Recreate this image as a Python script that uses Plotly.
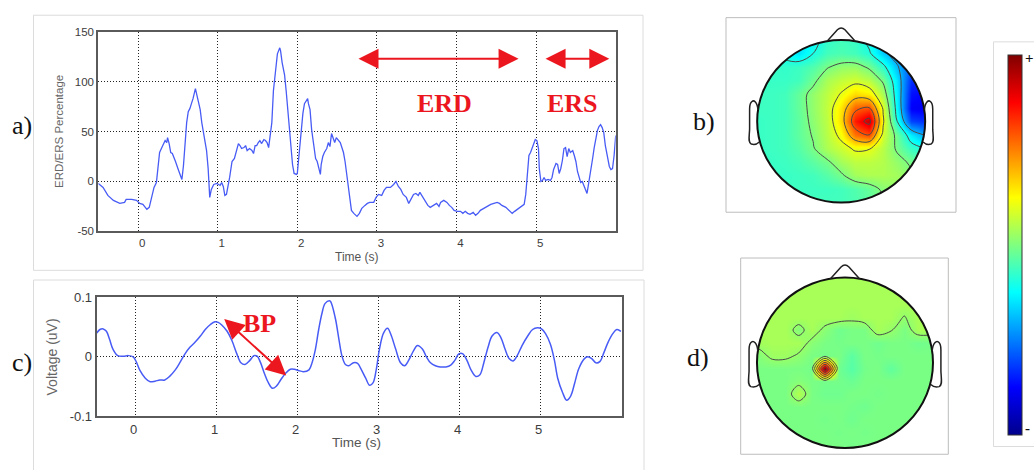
import numpy as np
import plotly.graph_objects as go

W, H = 1034, 470

# ---- a) ERD/ERS time course -------------------------------------------
erd_time = [-0.50, -0.44, -0.38, -0.31, -0.23, -0.17, -0.15, -0.08, -0.02, 0.02, 0.06, 0.11, 0.14, 0.17,
            0.20, 0.23, 0.25, 0.27, 0.31, 0.34, 0.36, 0.37, 0.39, 0.41, 0.43, 0.45, 0.47, 0.50, 0.52,
            0.55, 0.57, 0.59, 0.61, 0.63, 0.65, 0.67, 0.69, 0.72, 0.73, 0.76, 0.78, 0.80, 0.83, 0.86,
            0.88, 0.90, 0.92, 0.95, 0.99, 1.03, 1.05, 1.07, 1.09, 1.11, 1.15, 1.18, 1.21, 1.23, 1.26,
            1.28, 1.30, 1.33, 1.35, 1.37, 1.40, 1.43, 1.45, 1.47, 1.49, 1.51, 1.53, 1.55, 1.58, 1.60,
            1.62, 1.64, 1.66, 1.68, 1.70, 1.72, 1.75, 1.78, 1.79, 1.81, 1.84, 1.86, 1.88, 1.90, 1.92,
            1.94, 1.96, 1.99, 2.00, 2.02, 2.05, 2.07, 2.09, 2.11, 2.13, 2.14, 2.16, 2.18, 2.21, 2.23,
            2.25, 2.27, 2.29, 2.30, 2.32, 2.34, 2.37, 2.39, 2.41, 2.43, 2.45, 2.47, 2.49, 2.52, 2.54,
            2.56, 2.58, 2.60, 2.62, 2.64, 2.66, 2.68, 2.71, 2.75, 2.78, 2.81, 2.85, 2.88, 2.91, 2.96,
            2.99, 3.02, 3.06, 3.09, 3.12, 3.17, 3.21, 3.24, 3.27, 3.30, 3.33, 3.37, 3.40, 3.43, 3.46,
            3.49, 3.52, 3.54, 3.58, 3.61, 3.64, 3.67, 3.71, 3.75, 3.78, 3.80, 3.84, 3.88, 3.91, 3.94,
            3.97, 4.01, 4.05, 4.08, 4.11, 4.14, 4.17, 4.21, 4.24, 4.27, 4.30, 4.34, 4.38, 4.43, 4.47,
            4.51, 4.54, 4.57, 4.62, 4.66, 4.70, 4.73, 4.76, 4.80, 4.85, 4.87, 4.89, 4.91, 4.93, 4.95,
            4.97, 4.99, 5.01, 5.03, 5.04, 5.06, 5.08, 5.10, 5.12, 5.15, 5.18, 5.20, 5.22, 5.25, 5.27,
            5.29, 5.31, 5.33, 5.35, 5.37, 5.39, 5.41, 5.43, 5.46, 5.48, 5.50, 5.52, 5.54, 5.56, 5.58,
            5.60, 5.62, 5.64, 5.66, 5.69, 5.71, 5.73, 5.75, 5.77, 5.79, 5.81, 5.83, 5.85, 5.87, 5.90,
            5.92, 5.94, 5.96, 5.98, 6.00]
erd_value = [-2, -6, -14, -19, -22, -21, -18, -18, -19, -22, -23, -28, -26, -16,
             -6, -1, 16, 29, 36, 41, 39, 44, 38, 29, 28, 23, 20, 13, 8,
             2, 16, 42, 59, 70, 73, 78, 83, 93, 89, 80, 72, 59, 46, 31,
             13, -16, -8, -3, -2, -4, -1, -5, -14, -13, 4, 20, 23, 28, 38,
             36, 33, 34, 36, 31, 33, 31, 28, 36, 36, 39, 41, 38, 42, 41,
             39, 34, 46, 59, 91, 107, 128, 134, 131, 119, 107, 91, 72, 49, 29,
             17, 8, 7, 8, 26, 49, 68, 78, 81, 83, 78, 72, 52, 33, 23,
             20, 13, 7, 17, 25, 29, 33, 39, 35, 48, 44, 39, 44, 41, 39,
             34, 29, 20, 7, -6, -19, -29, -32, -35, -32, -27, -24, -22, -21, -21,
             -16, -13, -14, -9, -6, -6, -3, 0, -5, -8, -13, -16, -22, -18, -13,
             -12, -14, -11, -16, -21, -24, -26, -24, -22, -25, -21, -19, -21, -24, -26,
             -29, -30, -30, -32, -30, -32, -33, -31, -34, -32, -29, -27, -25, -23, -22,
             -21, -22, -24, -26, -29, -32, -30, -28, -26, -23, -13, 7, 26, 29, 33,
             39, 42, 41, 33, 13, 0, 1, 4, 1, 2, 1, 4, 12, 18, 17,
             8, 13, 21, 33, 34, 25, 33, 29, 31, 26, 20, 10, 4, -1, 0,
             -5, -8, -12, -3, 10, 23, 34, 44, 51, 55, 57, 54, 49, 36, 23,
             15, 12, 13, 26, 46]

# ---- c) band-passed EEG ---------------------------------------------------
bp_time = [-0.48, -0.44, -0.40, -0.36, -0.32, -0.28, -0.22, -0.15, -0.09, -0.03, 0.01, 0.05, 0.12, 0.18,
           0.24, 0.30, 0.36, 0.42, 0.49, 0.55, 0.61, 0.67, 0.73, 0.80, 0.86, 0.92, 0.98, 1.02, 1.06,
           1.13, 1.19, 1.25, 1.30, 1.35, 1.41, 1.46, 1.50, 1.54, 1.59, 1.64, 1.69, 1.74, 1.79, 1.85,
           1.91, 1.96, 2.01, 2.07, 2.14, 2.18, 2.22, 2.26, 2.30, 2.34, 2.40, 2.42, 2.47, 2.51, 2.55,
           2.59, 2.63, 2.69, 2.74, 2.78, 2.84, 2.89, 2.93, 2.97, 3.01, 3.06, 3.11, 3.15, 3.21, 3.27,
           3.32, 3.37, 3.43, 3.48, 3.54, 3.59, 3.64, 3.70, 3.76, 3.83, 3.89, 3.94, 3.99, 4.04, 4.09,
           4.14, 4.20, 4.25, 4.30, 4.35, 4.40, 4.46, 4.51, 4.56, 4.61, 4.66, 4.71, 4.77, 4.84, 4.90,
           4.96, 5.01, 5.06, 5.12, 5.17, 5.21, 5.27, 5.32, 5.37, 5.42, 5.47, 5.54, 5.58, 5.63, 5.68,
           5.73, 5.78, 5.83, 5.89, 5.94, 5.99]
bp_voltage = [0.040, 0.046, 0.047, 0.043, 0.029, 0.013, 0.002, 0.001, 0.002, 0.000, -0.009, -0.022, -0.036, -0.042,
              -0.041, -0.039, -0.039, -0.033, -0.022, -0.009, 0.005, 0.016, 0.024, 0.035, 0.046, 0.054, 0.059, 0.058, 0.054,
              0.043, 0.027, 0.005, -0.010, -0.013, -0.006, 0.002, 0.001, -0.009, -0.028, -0.044, -0.053, -0.049, -0.039, -0.028,
              -0.021, -0.021, -0.023, -0.025, -0.022, -0.009, 0.013, 0.046, 0.073, 0.090, 0.094, 0.089, 0.062, 0.029, 0.000,
              -0.013, -0.015, -0.010, -0.011, -0.020, -0.036, -0.048, -0.044, -0.022, 0.013, 0.040, 0.048, 0.038, 0.013, -0.010,
              -0.015, -0.006, 0.010, 0.019, 0.013, 0.000, -0.010, -0.015, -0.017, -0.017, -0.014, -0.006, 0.005, 0.005, -0.006,
              -0.022, -0.033, -0.030, -0.009, 0.016, 0.035, 0.041, 0.032, 0.013, -0.003, -0.007, 0.002, 0.019, 0.035, 0.046,
              0.049, 0.047, 0.039, 0.021, -0.006, -0.036, -0.060, -0.073, -0.066, -0.044, -0.020, -0.003, 0.000, -0.003, -0.010,
              -0.008, 0.007, 0.024, 0.039, 0.046, 0.043]

time_ticks = [0, 1, 2, 3, 4, 5]
erd_ticks = [-50, 0, 50, 100, 150]
volt_ticks = [-0.1, 0, 0.1]

# ---- b) / d) scalp maps, sampled on a grid over the head (radius 1) --------
topo_b_x = np.linspace(-1, 1, 13)
topo_b_y = np.linspace(1, -1, 13)          # rows listed from nose side downwards
topo_b_values = [
    [-13, -15, -22, -30, -25, -15, -12, -14, -24, -38, -45, -48, -48],
    [-14, -16, -24, -30, -20, -12, -10, -12, -18, -35, -48, -52, -52],
    [-13, -14, -15, -13, -9, -1, 4, 5, -2, -16, -38, -58, -60],
    [-13, -14, -14, -12, -3, 8, 13, 16, 11, -2, -30, -66, -70],
    [-13, -13, -12, -5, 4, 12, 21, 32, 28, 8, -28, -72, -75],
    [-13, -13, -12, -5, 4, 13, 30, 56, 60, 18, -26, -76, -78],
    [-14, -13, -12, -6, 3, 12, 32, 70, 86, 22, -20, -62, -66],
    [-14, -13, -12, -6, 1, 11, 24, 52, 60, 16, -4, -28, -42],
    [-14, -13, -12, -8, -1, 9, 15, 22, 21, 11, -2, -14, -20],
    [-14, -14, -13, -11, -7, -2, 7, 12, 12, 10, 4, -2, -10],
    [-14, -14, -14, -13, -12, -8, -2, 7, 9, 9, 7, 2, -6],
    [-13, -13, -13, -13, -13, -13, -12, -9, -5, 2, 4, 3, -4],
    [-12, -12, -12, -12, -12, -12, -12, -10, -6, -2, 0, 0, -2],
]
topo_d_x = np.round(-1.127 + 0.15 * np.arange(16), 3)
topo_d_y = np.round(1.134 - 0.15 * np.arange(16), 3)
topo_d_values = [
    [8] * 16,
    [8] * 16,
    [8] * 16,
    [8] * 16,
    [8, 8, 8, 8, 8, 8, 8, 8, 6, 8, 8, 8, 3.5, 8, 8, 8],
    [8, 8, 8, 8, 1, 8, 2, -3, -1, -1, 8, 4.5, -1, 8, 8, 8],
    [8, 7, 8, 8, 8, 2, -1, -2, -1, -1, -3, -1, -1, -3, -2, -2],
    [1, 1, 6, 6, 3, -1, -2, -1, -7, -1, -2, -1, -1, -1, -1, -1],
    [-1, -1, -1, -1, -1, -2, 100, -3, -8, -2, -1, -6, -1, -1, -1, -1],
    [-1, -1, -1, -1, 1, -1, -2, -2, -4, -1, -1, -1, -1, -1, -1, -1],
    [-1, -1, -1, -1, 10, -1, -3, -3, -1, -1, -2, -1, -1, -1, -1, -1],
    [-1, -1, -1, -1, -1, -1, -1, -1, -2, -3, -1, -1, -1, -1, -1, -1],
    [-1, -1, -1, -1, -1, -1, -2, -1, -3, -1, -1, -1, -1, -1, -1, -1],
    [-1, -1, -1, -1, -1, -1, -1, -2, -1, -2, -1, -1, -1, -1, -1, -1],
    [-1, -1, -1, -1, -1, -1, -1, -1, -2, -1, -1, -1, -1, -1, -1, -1],
    [-1] * 16,
]

JET = [[0.0, "rgb(0,0,140)"], [0.125, "rgb(0,0,255)"], [0.375, "rgb(0,255,255)"],
       [0.625, "rgb(255,255,0)"], [0.875, "rgb(255,0,0)"], [1.0, "rgb(128,0,0)"]]

LINE_BLUE = "rgb(72,92,245)"
RED = "rgb(236,22,30)"
TICK_FONT_A = dict(family="Liberation Sans, Arial", size=11.5, color="#3c3c3c")
TICK_FONT_C = dict(family="Liberation Sans, Arial", size=13, color="#3c3c3c")


def px(x):
    return x / W


def py(y):
    return 1 - y / H


fig = go.Figure()

fig.add_trace(go.Scatter(x=erd_time, y=erd_value, mode="lines",
                         line=dict(color=LINE_BLUE, width=1.3), xaxis="x", yaxis="y"))
fig.add_trace(go.Scatter(x=bp_time, y=bp_voltage, mode="lines",
                         line=dict(color=LINE_BLUE, width=1.5, shape="spline", smoothing=1.0),
                         xaxis="x2", yaxis="y2"))

# scalp maps: smooth colour field + contour lines
fig.add_trace(go.Heatmap(x=topo_b_x, y=topo_b_y[::-1], z=topo_b_values[::-1], zsmooth="best",
                         colorscale=JET, zmin=-100, zmax=100, xaxis="x3", yaxis="y3",
                         showscale=True,
                         colorbar=dict(x=px(1008.3), xanchor="left", xpad=0, ypad=0,
                                       y=py(246), yanchor="middle", len=380, lenmode="pixels",
                                       thickness=14, thicknessmode="pixels",
                                       outlinecolor="#333", outlinewidth=1,
                                       showticklabels=False, ticks="")))
fig.add_trace(go.Contour(x=topo_b_x, y=topo_b_y[::-1], z=topo_b_values[::-1], showscale=False,
                         contours=dict(start=-40, end=80, size=20, coloring="none"),
                         line=dict(color="#4a4a4a", width=1, smoothing=1.0),
                         xaxis="x3", yaxis="y3", hoverinfo="skip"))
fig.add_trace(go.Heatmap(x=topo_d_x, y=topo_d_y[::-1], z=topo_d_values[::-1], zsmooth="best",
                         colorscale=JET, zmin=-100, zmax=100, xaxis="x4", yaxis="y4",
                         showscale=False))
fig.add_trace(go.Contour(x=topo_d_x, y=topo_d_y[::-1], z=topo_d_values[::-1], showscale=False,
                         contours=dict(start=4, end=100, size=16, coloring="none"),
                         line=dict(color="#4a4a4a", width=1, smoothing=1.0),
                         xaxis="x4", yaxis="y4", hoverinfo="skip"))

grid_style = dict(showgrid=True, gridcolor="#222", griddash="1px,2px", gridwidth=1,
                  showline=True, linecolor="#5a5a5a", linewidth=2, mirror=True,
                  zeroline=False, ticks="")

layout_axes = dict(
    xaxis=dict(domain=[px(98.3), px(615.7)], range=[-0.5, 6.0], tickvals=time_ticks,
               ticktext=[str(t) for t in time_ticks], tickfont=TICK_FONT_A, anchor="y",
               ticklabelshift=4, **grid_style),
    yaxis=dict(domain=[py(231.7), py(25.7)], range=[-50, 150], tickvals=erd_ticks,
               ticktext=[str(t) for t in erd_ticks], tickfont=TICK_FONT_A, anchor="x",
               **grid_style),
    xaxis2=dict(domain=[px(96.7), px(621.7)], range=[-0.48, 6.0], tickvals=time_ticks,
                ticktext=[str(t) for t in time_ticks], tickfont=TICK_FONT_C, anchor="y2",
                ticklabelshift=-2, **grid_style),
    yaxis2=dict(domain=[py(422.7), py(300)], range=[-0.1, 0.1], tickvals=volt_ticks,
                ticktext=["-0.1", "0", "0.1"], tickfont=TICK_FONT_C, anchor="x2",
                **grid_style),
    xaxis3=dict(domain=[px(726), px(956)], range=[-1.371, 1.367], visible=False, anchor="y3"),
    yaxis3=dict(domain=[py(212), py(11)], range=[-1.119, 1.274], visible=False, anchor="x3"),
    xaxis4=dict(domain=[px(740.7), px(948.3)], range=[-1.185, 1.174], visible=False, anchor="y4"),
    yaxis4=dict(domain=[py(462), py(259.3)], range=[-1.074, 1.2295], visible=False, anchor="x4"),
)

shapes = []


def paper_rect(x0, y0, x1, y1, color="#dcdcdc"):
    shapes.append(dict(type="rect", xref="paper", yref="paper", x0=px(x0), x1=px(x1),
                       y0=py(y1), y1=py(y0), line=dict(color=color, width=1), layer="below"))


# light panel frames
paper_rect(33.5, 8.5, 643, 272)
paper_rect(33.5, 282, 644, 480)
paper_rect(993.5, 36, 1050, 454)

theta = np.linspace(0, 2 * np.pi, 241)
circle_pts = " L ".join(f"{np.cos(a):.4f},{np.sin(a):.4f}" for a in theta)
mask_path = f"M -1.6,-1.6 L 1.6,-1.6 L 1.6,1.6 L -1.6,1.6 Z M {circle_pts} Z"
nose_path = "M -0.165,0.986 L -0.045,1.125 Q 0,1.17 0.045,1.125 L 0.165,0.986"


def ear_path(s):
    return (f"M {s*0.99},0.14 C {s*1.0},0.24 {s*1.04},0.26 {s*1.06},0.245 "
            f"C {s*1.085},0.23 {s*1.09},0.2 {s*1.09},0.15 L {s*1.09},-0.1 "
            f"C {s*1.095},-0.2 {s*1.11},-0.26 {s*1.07},-0.28 "
            f"C {s*1.04},-0.29 {s*1.0},-0.28 {s*0.975},-0.255")


for xr, yr in (("x3", "y3"), ("x4", "y4")):
    shapes.append(dict(type="path", xref=xr, yref=yr, path=mask_path, fillrule="evenodd",
                       fillcolor="white", line=dict(width=0), layer="above"))
    shapes.append(dict(type="circle", xref=xr, yref=yr, x0=-1, x1=1, y0=-1, y1=1,
                       line=dict(color="#111", width=2), layer="above"))
    shapes.append(dict(type="path", xref=xr, yref=yr, path=nose_path,
                       line=dict(color="#222", width=1.5), layer="above"))
    for s in (1, -1):
        shapes.append(dict(type="path", xref=xr, yref=yr, path=ear_path(s),
                           line=dict(color="#222", width=1.5), layer="above"))
    shapes.append(dict(type="rect", xref=f"{xr} domain", yref=f"{yr} domain", x0=0, x1=1,
                       y0=0, y1=1, line=dict(color="#bdbdbd", width=1), layer="above"))

annotations = []


def label(text, x, y, size, color="#111", family="Liberation Serif, Times New Roman",
          bold=False, angle=0):
    t = f"<b>{text}</b>" if bold else text
    annotations.append(dict(text=t, x=px(x), y=py(y), xref="paper", yref="paper",
                            showarrow=False, xanchor="center", yanchor="middle",
                            textangle=angle, font=dict(family=family, size=size, color=color)))


label("a)", 22, 122, 26)
label("c)", 22, 367, 26)
label("b)", 704, 118, 26)
label("d)", 698, 362, 26)
label("ERD", 444, 100, 26, color=RED, bold=True)
label("ERS", 572, 100, 26, color=RED, bold=True)
label("BP", 259.5, 327, 26, color=RED, bold=True)
label("+", 1029.5, 53, 15, bold=True)
label("-", 1027.5, 435, 15, bold=True)

sans = "Liberation Sans, Arial"
label("ERD/ERS Percentage", 59, 129, 11.5, color="#666", family=sans, angle=-90)
label("Time (s)", 357, 258, 12, color="#555", family=sans)
label("Voltage (uV)", 52, 362, 14, color="#666", family=sans, angle=-90)
label("Time (s)", 356.5, 450, 13.5, color="#555", family=sans)


def double_arrow(xref, yref, x0, x1, y0, y1):
    annotations.append(dict(text="", x=x1, y=y1, ax=x0, ay=y0, xref=xref, yref=yref,
                            axref=xref, ayref=yref, showarrow=True, arrowside="end+start",
                            arrowhead=2, startarrowhead=2, arrowsize=2, startarrowsize=2,
                            arrowwidth=2, arrowcolor=RED, standoff=0, startstandoff=0))


double_arrow("x", "y", 2.75, 4.78, 123, 123)     # ERD window
double_arrow("x", "y", 5.10, 5.92, 123, 123)     # ERS window
double_arrow("x2", "y2", 1.076, 1.859, 0.066, -0.0316)   # BP

fig.update_layout(width=W, height=H, margin=dict(l=0, r=0, t=0, b=0),
                  paper_bgcolor="white", plot_bgcolor="white", showlegend=False,
                  shapes=shapes, annotations=annotations, **layout_axes)

fig.write_html("out.html")
